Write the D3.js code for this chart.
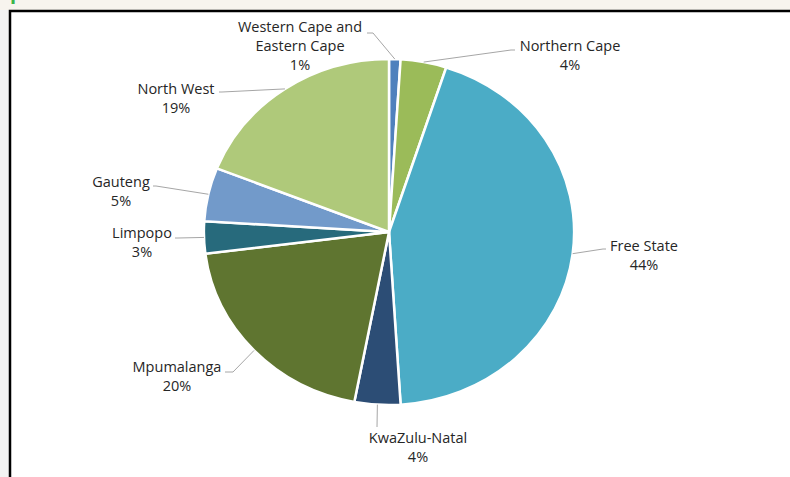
<!DOCTYPE html>
<html>
<head>
<meta charset="utf-8">
<script src="https://cdn.jsdelivr.net/npm/d3@7"></script>
<style>
  body { margin: 0; background: #f3f3f2; }
  text { font-family: "Open Sans", sans-serif; }
</style>
</head>
<body>
<div id="chart"></div>
<script>
// Chart data
const provinces = ["Western Cape and Eastern Cape", "Northern Cape", "Free State", "KwaZulu-Natal",
  "Mpumalanga", "Limpopo", "Gauteng", "North West"];
const shares = [1, 4, 44, 4, 20, 3, 5, 19];
const colors = ["#4f81bd", "#9bbb59", "#4bacc6", "#2c4d75", "#5f7530", "#276a7c", "#729aca", "#afc97a"];
const labelLines = [["Western Cape and", "Eastern Cape"], ["Northern Cape"], ["Free State"], ["KwaZulu-Natal"],
  ["Mpumalanga"], ["Limpopo"], ["Gauteng"], ["North West"]];

// Label layout: text centre, first baseline, elbow of the leader line
const labelPos = [
  { x: 300, y: 32, ex: 373, ey: 33, tx: 367 },
  { x: 570, y: 51, ex: 511, ey: 50, tx: 515 },
  { x: 644, y: 251, ex: 603, ey: 249, tx: 606 },
  { x: 418, y: 443, ex: 377, ey: 427, tx: 377 },
  { x: 177, y: 372, ex: 233, ey: 372, tx: 225 },
  { x: 142, y: 238, ex: 178, ey: 238, tx: 175 },
  { x: 121, y: 187, ex: 156, ey: 186, tx: 153 },
  { x: 176, y: 94, ex: 222, ey: 92, tx: 219 }
];

const width = 790;
const height = 477;
const cx = 389, cy = 232, radius = 173, stretch = 1.07;

const svg = d3.select("#chart")
  .append("svg")
  .attr("width", width)
  .attr("height", height);

// Page strip above the chart frame
svg.append("rect").attr("x", 0).attr("y", 0).attr("width", width).attr("height", 10).attr("fill", "#f7f4ee");
svg.append("text")
  .attr("x", 10).attr("y", -1)
  .attr("fill", "#3cb54a")
  .attr("font-size", 20).attr("font-weight", "bold")
  .attr("letter-spacing", 3)
  .text("produce");

// Chart frame
svg.append("rect")
  .attr("x", 10).attr("y", 11)
  .attr("width", width + 20).attr("height", height + 20)
  .attr("fill", "#ffffff")
  .attr("stroke", "#000000")
  .attr("stroke-width", 2.5);

const data = provinces.map((p, i) => ({ name: p, value: shares[i], color: colors[i], lines: labelLines[i], pos: labelPos[i] }));

const pie = d3.pie().sort(null).value(d => d.value);
const arcs = pie(data);
const arc = d3.arc().innerRadius(0).outerRadius(radius);

// Slices
svg.append("g")
  .attr("transform", `translate(${cx},${cy}) scale(${stretch},1)`)
  .selectAll("path")
  .data(arcs)
  .enter()
  .append("path")
  .attr("d", arc)
  .attr("fill", d => d.data.color)
  .attr("stroke", "#ffffff")
  .attr("stroke-width", 2.5)
  .attr("vector-effect", "non-scaling-stroke");

// Leader lines
function edgePoint(d) {
  const a = (d.startAngle + d.endAngle) / 2;
  return [cx + Math.sin(a) * radius * stretch, cy - Math.cos(a) * radius];
}

svg.append("g")
  .selectAll("polyline")
  .data(arcs)
  .enter()
  .append("polyline")
  .attr("points", d => {
    const p = edgePoint(d);
    return [p, [d.data.pos.ex, d.data.pos.ey], [d.data.pos.tx, d.data.pos.ey]].map(q => q.join(",")).join(" ");
  })
  .attr("fill", "none")
  .attr("stroke", "#a6a6a6")
  .attr("stroke-width", 1);

// Labels
const labels = svg.append("g")
  .selectAll("text")
  .data(arcs)
  .enter()
  .append("text")
  .attr("text-anchor", "middle")
  .attr("font-size", 14.5)
  .attr("fill", "#262626");

labels.each(function(d) {
  const t = d3.select(this);
  const rows = d.data.lines.concat([d.data.value + "%"]);
  rows.forEach((r, i) => {
    t.append("tspan")
      .attr("x", d.data.pos.x)
      .attr("y", d.data.pos.y + i * 19)
      .text(r);
  });
});
</script>
</body>
</html>
